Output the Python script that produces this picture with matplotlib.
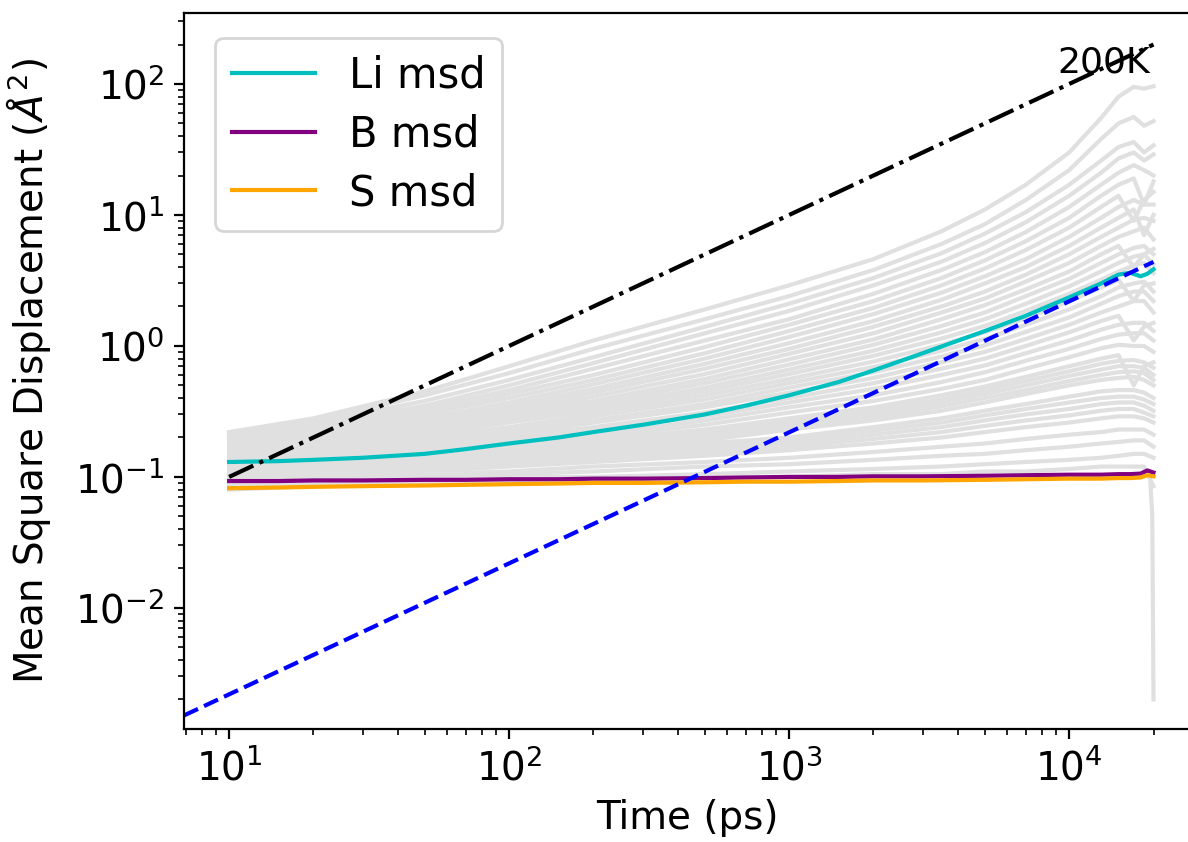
import matplotlib
matplotlib.use("Agg")
import matplotlib.pyplot as plt

# time grid (ps) for the per-atom traces
times = [10, 20, 50, 100, 200, 500, 1000, 2000, 3500, 5000, 7000,
         10000, 13000, 15000, 17000, 18500, 20000]

# individual atom msd traces (grey background)
grey_traces = [
    [0.22, 0.28, 0.45, 0.7, 1.1, 1.9, 2.9, 4.6, 7.5, 11, 17, 30, 55, 80, 95, 92, 96],
    [0.21, 0.27, 0.42, 0.62, 0.95, 1.6, 2.4, 3.8, 6, 8.5, 13, 22, 38, 50, 56, 48, 52],
    [0.21, 0.26, 0.38, 0.55, 0.82, 1.4, 2.1, 3.3, 5.1, 7.2, 10.5, 17, 26, 33, 36, 30, 34],
    [0.2, 0.25, 0.35, 0.5, 0.74, 1.25, 1.85, 2.9, 4.4, 6.1, 8.8, 14, 21, 27, 30, 26, 29],
    [0.2, 0.24, 0.33, 0.46, 0.67, 1.1, 1.6, 2.5, 3.8, 5.2, 7.4, 11.5, 17, 21, 24, 22, 20],
    [0.19, 0.23, 0.31, 0.43, 0.6, 0.98, 1.45, 2.2, 3.3, 4.5, 6.3, 9.5, 14, 17, 19, 12, 18],
    [0.19, 0.22, 0.3, 0.4, 0.55, 0.88, 1.3, 1.95, 2.9, 3.9, 5.4, 8, 11.5, 14, 9, 13, 15],
    [0.18, 0.22, 0.28, 0.37, 0.51, 0.8, 1.17, 1.75, 2.55, 3.4, 4.6, 6.8, 9.5, 11.5, 13, 12, 12],
    [0.18, 0.21, 0.27, 0.35, 0.47, 0.73, 1.05, 1.55, 2.25, 3.0, 4.0, 5.8, 8, 9.5, 11, 7, 10],
    [0.17, 0.2, 0.26, 0.33, 0.44, 0.67, 0.95, 1.4, 2.0, 2.6, 3.5, 5.0, 6.8, 8, 9.2, 9.5, 9],
    [0.17, 0.2, 0.25, 0.31, 0.41, 0.61, 0.87, 1.25, 1.8, 2.3, 3.1, 4.3, 5.8, 6.8, 7.5, 8, 6.5],
    [0.16, 0.19, 0.24, 0.3, 0.38, 0.56, 0.79, 1.12, 1.6, 2.05, 2.7, 3.7, 5.0, 5.8, 4, 5, 5.5],
    [0.16, 0.18, 0.23, 0.28, 0.36, 0.52, 0.72, 1.02, 1.42, 1.8, 2.4, 3.25, 4.3, 5, 5.6, 5.8, 5],
    [0.15, 0.18, 0.22, 0.27, 0.34, 0.48, 0.66, 0.92, 1.27, 1.6, 2.1, 2.85, 3.7, 4.3, 4.8, 5, 4.2],
    [0.15, 0.17, 0.21, 0.26, 0.32, 0.45, 0.61, 0.84, 1.14, 1.42, 1.85, 2.5, 3.2, 3.7, 4.1, 4.3, 3.6],
    [0.14, 0.17, 0.2, 0.24, 0.3, 0.42, 0.56, 0.76, 1.02, 1.27, 1.63, 2.2, 2.8, 3.2, 2.2, 2.9, 3],
    [0.14, 0.16, 0.19, 0.23, 0.29, 0.39, 0.52, 0.69, 0.92, 1.13, 1.45, 1.9, 2.4, 2.8, 3.0, 3.1, 2.6],
    [0.14, 0.16, 0.19, 0.22, 0.27, 0.36, 0.48, 0.63, 0.83, 1.01, 1.28, 1.65, 2.1, 2.4, 2.6, 2.6, 2.2],
    [0.13, 0.15, 0.18, 0.21, 0.26, 0.34, 0.44, 0.57, 0.75, 0.9, 1.13, 1.45, 1.8, 2.0, 2.2, 2.2, 1.8],
    [0.13, 0.15, 0.17, 0.2, 0.24, 0.31, 0.4, 0.52, 0.67, 0.8, 1.0, 1.27, 1.55, 1.7, 1.1, 1.4, 1.5],
    [0.13, 0.14, 0.16, 0.19, 0.23, 0.29, 0.37, 0.47, 0.6, 0.71, 0.88, 1.1, 1.33, 1.45, 1.5, 1.5, 1.3],
    [0.12, 0.14, 0.16, 0.18, 0.21, 0.27, 0.34, 0.42, 0.53, 0.63, 0.77, 0.95, 1.13, 1.22, 1.25, 1.25, 1.1],
    [0.12, 0.13, 0.15, 0.17, 0.2, 0.25, 0.31, 0.38, 0.47, 0.55, 0.67, 0.82, 0.96, 1.02, 1.0, 1.0, 0.9],
    [0.12, 0.13, 0.14, 0.16, 0.19, 0.23, 0.28, 0.34, 0.42, 0.49, 0.58, 0.7, 0.8, 0.85, 0.5, 0.7, 0.75],
    [0.115, 0.125, 0.14, 0.155, 0.18, 0.22, 0.265, 0.32, 0.39, 0.46, 0.54, 0.64, 0.73, 0.77, 0.78, 0.75, 0.68],
    [0.11, 0.12, 0.14, 0.15, 0.17, 0.21, 0.25, 0.3, 0.37, 0.43, 0.5, 0.59, 0.66, 0.7, 0.7, 0.68, 0.6],
    [0.11, 0.12, 0.135, 0.15, 0.165, 0.2, 0.24, 0.285, 0.345, 0.4, 0.46, 0.54, 0.6, 0.63, 0.64, 0.62, 0.55],
    [0.11, 0.12, 0.13, 0.15, 0.16, 0.19, 0.23, 0.27, 0.32, 0.37, 0.43, 0.5, 0.55, 0.57, 0.58, 0.55, 0.5],
    [0.11, 0.115, 0.125, 0.14, 0.15, 0.18, 0.2, 0.24, 0.28, 0.32, 0.36, 0.41, 0.45, 0.46, 0.46, 0.44, 0.4],
    [0.105, 0.112, 0.122, 0.135, 0.145, 0.17, 0.19, 0.225, 0.26, 0.295, 0.33, 0.37, 0.4, 0.41, 0.41, 0.39, 0.36],
    [0.1, 0.11, 0.12, 0.13, 0.14, 0.16, 0.18, 0.21, 0.24, 0.27, 0.3, 0.33, 0.36, 0.37, 0.37, 0.35, 0.32],
    [0.1, 0.108, 0.115, 0.125, 0.135, 0.152, 0.17, 0.195, 0.22, 0.245, 0.27, 0.295, 0.32, 0.33, 0.33, 0.31, 0.29],
    [0.1, 0.105, 0.11, 0.12, 0.13, 0.145, 0.16, 0.18, 0.2, 0.22, 0.24, 0.26, 0.28, 0.29, 0.29, 0.28, 0.26],
    [0.095, 0.1, 0.105, 0.11, 0.12, 0.13, 0.14, 0.155, 0.17, 0.18, 0.195, 0.21, 0.22, 0.23, 0.23, 0.23, 0.21],
    [0.09, 0.095, 0.1, 0.105, 0.11, 0.12, 0.125, 0.135, 0.145, 0.15, 0.16, 0.17, 0.18, 0.185, 0.19, 0.19, 0.17],
    [0.085, 0.09, 0.095, 0.1, 0.1, 0.105, 0.11, 0.115, 0.12, 0.125, 0.13, 0.135, 0.14, 0.145, 0.15, 0.15, 0.14],
    [0.08, 0.085, 0.09, 0.09, 0.095, 0.1, 0.1, 0.105, 0.105, 0.11, 0.11, 0.115, 0.12, 0.12, 0.12, 0.12, 0.085],
]
# one trace collapses at the very last frame
spike_t = [19500, 19800, 20000]
spike_y = [0.09, 0.05, 0.002]

# averaged msd per species
avg_t = [10, 15, 20, 30, 50, 70, 100, 150, 200, 300, 500, 700, 1000, 1500, 2000,
         3000, 5000, 7000, 10000, 13000, 15000, 16500, 18000, 19000, 20000]
li_msd = [0.13, 0.132, 0.135, 0.14, 0.15, 0.163, 0.18, 0.2, 0.22, 0.25, 0.3, 0.35,
          0.42, 0.53, 0.65, 0.88, 1.3, 1.7, 2.35, 3.0, 3.5, 3.62, 3.4, 3.55, 3.85]
b_msd = [0.093, 0.093, 0.094, 0.094, 0.095, 0.095, 0.096, 0.096, 0.097, 0.097, 0.098, 0.099,
         0.1, 0.1, 0.101, 0.101, 0.102, 0.103, 0.104, 0.104, 0.105, 0.105, 0.106, 0.112, 0.108]
s_msd = [0.082, 0.083, 0.084, 0.085, 0.086, 0.087, 0.088, 0.089, 0.09, 0.09, 0.091, 0.092,
         0.092, 0.093, 0.094, 0.094, 0.095, 0.096, 0.097, 0.097, 0.098, 0.098, 0.099, 0.103, 0.101]

# slope-1 guide lines
guide_t = [10, 20000]
guide_200k = [0.1, 200]
fit_t = [6.9, 20000]
fit_y = [0.00151, 4.38]

plt.rcParams["font.size"] = 14

fig = plt.figure(figsize=(5.94, 4.21), dpi=200)
ax = fig.add_axes([184 / 1188, 113 / 842, 1006 / 1188, 716 / 842])

for tr in grey_traces:
    ax.plot(times, tr, color="#e0e0e0")
ax.plot(spike_t, spike_y, color="#e0e0e0")

ax.plot(avg_t, li_msd, color="c", label="Li msd")
ax.plot(avg_t, b_msd, color="purple", label="B msd")
ax.plot(avg_t, s_msd, color="orange", label="S msd")

ax.plot(guide_t, guide_200k, "k-.")
ax.plot(fit_t, fit_y, "b--")
ax.text(9100, 145, "200K", ha="left", va="center", fontsize=13)

ax.set_xscale("log")
ax.set_yscale("log")
ax.set_xlim(6.9, 27000)
ax.set_ylim(1.19e-3, 348)
ax.set_xlabel("Time (ps)")
ax.set_ylabel(r"Mean Square Displacement ($Å^2$)", labelpad=8)
ax.legend(loc="upper left", bbox_to_anchor=(0.031, 0.965), borderaxespad=0,
          fontsize=15, labelspacing=0.4)

fig.savefig("out.png")
